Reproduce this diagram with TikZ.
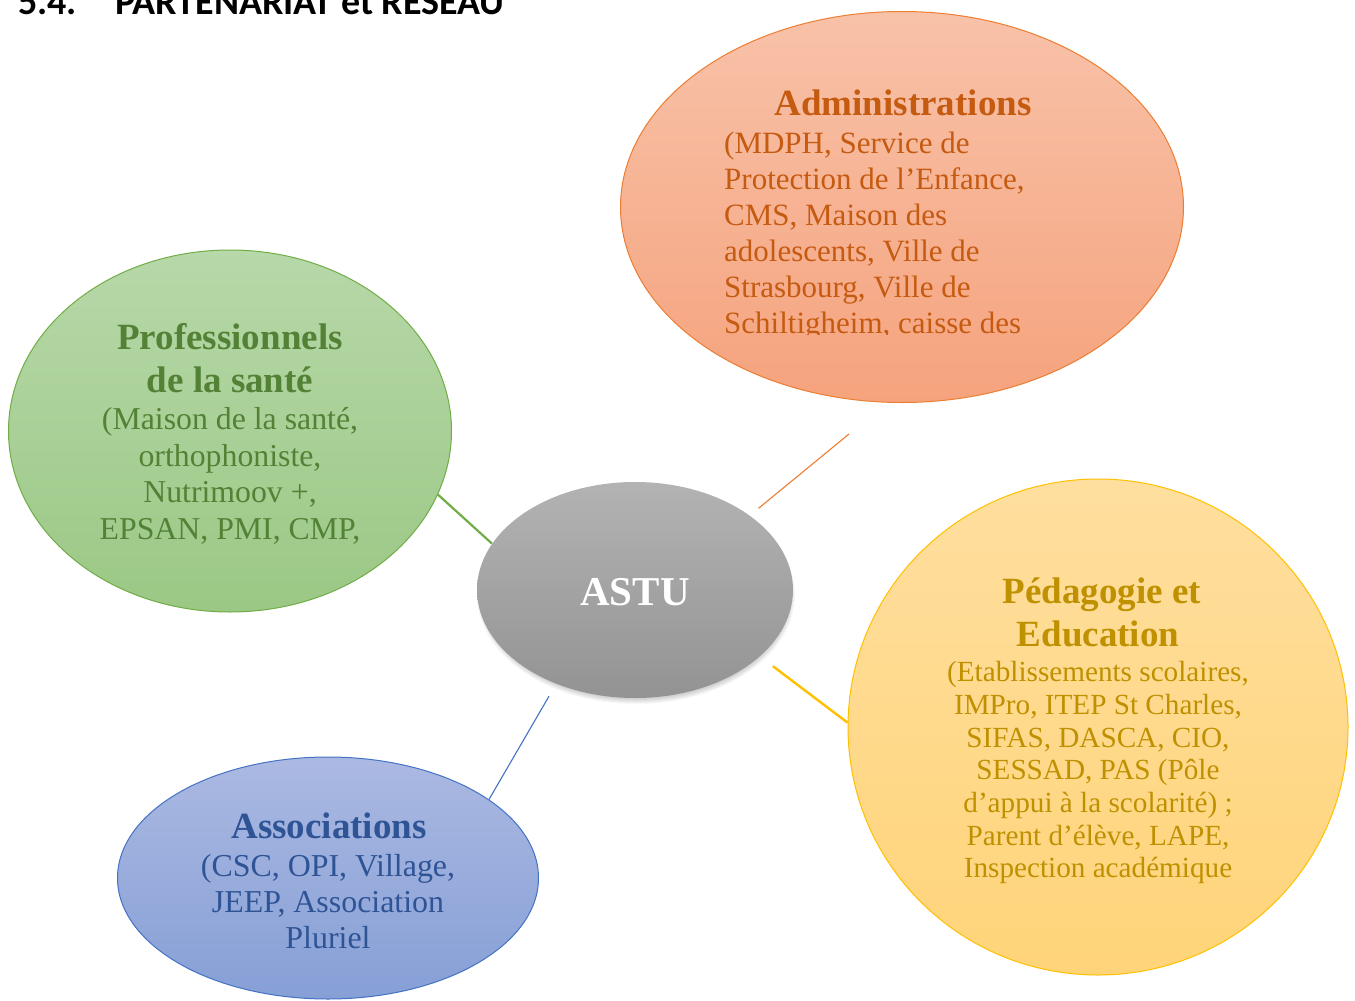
\documentclass[tikz,border=0pt]{standalone}
\usepackage{fontspec}
\setmainfont{Liberation Serif}
\newfontfamily\titlefont{Carlito}
\usetikzlibrary{shapes.geometric}
\definecolor{admTop}{HTML}{F8C2A9}
\definecolor{admBot}{HTML}{F5A37D}
\definecolor{admLine}{HTML}{ED7D31}
\definecolor{admText}{HTML}{C55A11}
\definecolor{grnTop}{HTML}{B7D8A9}
\definecolor{grnBot}{HTML}{9BC885}
\definecolor{grnLine}{HTML}{70AD47}
\definecolor{grnText}{HTML}{538135}
\definecolor{yelTop}{HTML}{FFDF9F}
\definecolor{yelBot}{HTML}{FFD479}
\definecolor{yelLine}{HTML}{FFC000}
\definecolor{yelText}{HTML}{BF9000}
\definecolor{bluTop}{HTML}{ABB9E2}
\definecolor{bluBot}{HTML}{869FD6}
\definecolor{bluLine}{HTML}{4472C4}
\definecolor{bluText}{HTML}{2F5496}
\definecolor{astTop}{HTML}{B3B3B3}
\definecolor{astBot}{HTML}{939393}
\begin{document}
\begin{tikzpicture}[x=1pt,y=-1pt,
  bubble/.style={ellipse, inner sep=0pt, line width=1pt},
  headtxt/.style={font=\bfseries\fontsize{37}{43}\selectfont, inner sep=0pt, anchor=base},
  ttlstyle/.style={font=\titlefont\bfseries\fontsize{38}{42}\selectfont, inner sep=0pt, anchor=base west},
  admtxt/.style={font=\fontsize{31}{36}\selectfont, text=admText, inner sep=0pt, anchor=base west},
  grntxt/.style={font=\fontsize{31.8}{36}\selectfont, text=grnText, inner sep=0pt, anchor=base},
  yeltxt/.style={font=\fontsize{29.2}{33}\selectfont, text=yelText, inner sep=0pt, anchor=base},
  blutxt/.style={font=\fontsize{31.9}{36}\selectfont, text=bluText, inner sep=0pt, anchor=base}]
\useasboundingbox (0,0) rectangle (1355,1001);
\clip (0,0) rectangle (1355,1001);
\fill[white] (0,0) rectangle (1355,1001);

% title
\node[ttlstyle] (tnum) at (18,14) {5.4.};
\node[ttlstyle] (ttl) at (115,14) {PARTENARIAT et RESEAU};

% bubbles
\node[bubble, minimum width=563pt, minimum height=391pt, draw=admLine, top color=admTop, bottom color=admBot] (adm) at (902,207) {};
\node[bubble, minimum width=443pt, minimum height=362pt, draw=grnLine, top color=grnTop, bottom color=grnBot] (grn) at (230,431) {};
\node[bubble, minimum width=500pt, minimum height=496pt, draw=yelLine, top color=yelTop, bottom color=yelBot] (yel) at (1098,727) {};
\node[bubble, minimum width=421pt, minimum height=242pt, draw=bluLine, top color=bluTop, bottom color=bluBot] (blu) at (328,878) {};

% ASTU shadow
\foreach \k in {0,...,9}
  \fill[black, opacity=0.03] (636,595) ellipse [x radius=150+\k, y radius=100+\k];
\node[bubble, minimum width=316pt, minimum height=216pt, draw=none, top color=astTop, bottom color=astBot] (astu) at (635,590) {};
\node[font=\bfseries\fontsize{41}{45}\selectfont, text=white, inner sep=0pt, anchor=base] (astuT) at (635,605) {ASTU};

% connectors
\coordinate (oEnd) at (849,434);
\draw[grnLine, line width=2.2pt] (grn.-17) -- (astu.162);
\draw[admLine, line width=1.1pt, shorten <=11pt] (astu.33) -- (oEnd);
\draw[yelLine, line width=2.4pt, shorten <=16pt] (astu.-28) -- (yel.179);
\draw[bluLine, line width=1.1pt, shorten <=14pt] (astu.-130) -- (blu.26);

% Administrations text
\node[headtxt, text=admText] (admH) at (903,115) {Administrations};
\begin{scope}
\clip (600,0) rectangle (1200,334);
\foreach \yy/\txt [count=\i] in {153/{(MDPH, Service de},
    189/{Protection de l’Enfance,},
    225/{CMS, Maison des},
    261/{adolescents, Ville de},
    297/{Strasbourg, Ville de},
    333/{Schiltigheim, caisse des}}
  \node[admtxt] (adm-\i) at (724,\yy) {\txt};
\end{scope}

% Professionnels de la sante
\node[headtxt, text=grnText] (grnH1) at (230,349) {Professionnels};
\node[headtxt, text=grnText] (grnH2) at (230,392) {de la santé};
\foreach \yy/\txt [count=\i] in {429.5/{(Maison de la santé,},
    466.2/{orthophoniste,},
    502.9/{Nutrimoov +,},
    539.6/{EPSAN, PMI, CMP,}}
  \node[grntxt] (grn-\i) at (230,\yy) {\txt};

% Pedagogie et Education
\node[headtxt, text=yelText] (yelH1) at (1102,603) {Pédagogie et};
\node[headtxt, text=yelText] (yelH2) at (1098,646) {Education};
\foreach \yy/\txt [count=\i] in {681.7/{(Etablissements scolaires,},
    714.4/{IMPro, ITEP St Charles,},
    747.1/{SIFAS, DASCA, CIO,},
    779.8/{SESSAD, PAS (Pôle},
    812.5/{d’appui à la scolarité) ;},
    845.2/{Parent d’élève, LAPE,},
    877.9/{Inspection académique}}
  \node[yeltxt] (yel-\i) at (1098,\yy) {\txt};

% Associations
\node[headtxt, text=bluText] (bluH) at (329,838) {Associations};
\foreach \yy/\txt [count=\i] in {876/{(CSC, OPI, Village,},
    912/{JEEP, Association},
    948/{Pluriel}}
  \node[blutxt] (blu-\i) at (328,\yy) {\txt};
\end{tikzpicture}
\end{document}
